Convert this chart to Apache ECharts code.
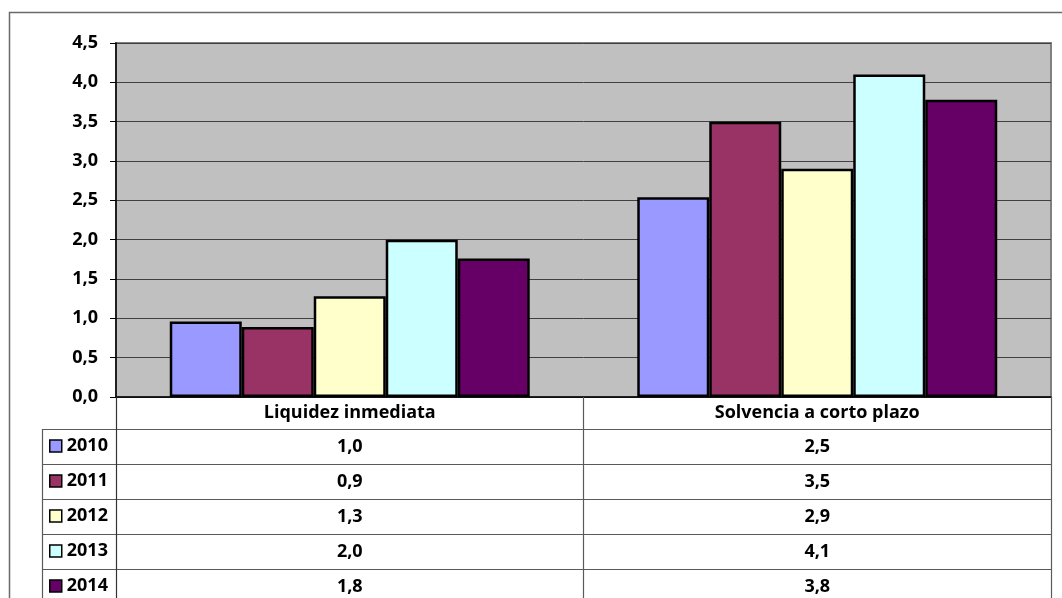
<!DOCTYPE html>
<html>
<head>
<meta charset="utf-8">
<script src="https://cdn.jsdelivr.net/npm/echarts@6/dist/echarts.min.js"></script>
<style>
html,body{margin:0;padding:0;background:#fff;}
#chart{width:1062px;height:598px;}
</style>
</head>
<body>
<div id="chart"></div>
<script>
// ---- data ----
var categories = ['Liquidez inmediata', 'Solvencia a corto plazo'];
var years = ['2010', '2011', '2012', '2013', '2014'];
var s2010 = [0.96, 2.54];
var s2011 = [0.89, 3.50];
var s2012 = [1.28, 2.90];
var s2013 = [2.00, 4.10];
var s2014 = [1.76, 3.78];
var yTicks = [0, 0.5, 1, 1.5, 2, 2.5, 3, 3.5, 4, 4.5];

var seriesValues = [s2010, s2011, s2012, s2013, s2014];
var colors = ['#9999FF', '#993366', '#FFFFCC', '#CCFFFF', '#660066'];

var FONT = '"Open Sans", sans-serif';
var FS = 18;
var fmt = function (v) { return Number(v).toFixed(1).replace('.', ','); };

// layout constants
var L = 116, R = 1051, T = 43, B = 397;
var headerBottom = 429, rowH = 35, legendLeft = 42;

var chart = echarts.init(document.getElementById('chart'), null, {renderer: 'canvas'});

var series = years.map(function (y, i) {
  return {
    name: y,
    type: 'bar',
    data: seriesValues[i],
    barGap: '0%',
    barCategoryGap: '23%',
    itemStyle: {color: colors[i], borderColor: '#000', borderWidth: 2.5},
    emphasis: {disabled: true},
    animation: false
  };
});

chart.setOption({
  animation: false,
  textStyle: {fontFamily: FONT},
  grid: {
    left: L, right: 1062 - R, top: T, bottom: 598 - B,
    show: true, backgroundColor: '#C0C0C0', borderColor: '#808080', borderWidth: 2
  },
  legend: {
    orient: 'vertical',
    left: 49, top: 436,
    padding: 0,
    itemWidth: 12, itemHeight: 12,
    itemGap: 15,
    icon: 'rect',
    selectedMode: false,
    itemStyle: {borderColor: '#000', borderWidth: 1.5},
    textStyle: {fontFamily: FONT, fontSize: FS, fontWeight: 'bold', color: '#000', lineHeight: 20, padding: [0, 0, 0, 0]},
    data: years
  },
  xAxis: {
    type: 'category',
    data: categories,
    axisLine: {lineStyle: {color: '#000', width: 1.5}},
    axisTick: {show: false},
    axisLabel: {
      margin: 0, lineHeight: 32, color: '#000', fontFamily: FONT, fontSize: FS, fontWeight: 'bold'
    },
    splitLine: {show: false}
  },
  yAxis: {
    type: 'value',
    min: yTicks[0], max: yTicks[yTicks.length - 1], interval: yTicks[1] - yTicks[0],
    axisLine: {show: true, lineStyle: {color: '#000', width: 1.5}},
    axisTick: {show: true, length: 6, lineStyle: {color: '#000'}},
    axisLabel: {
      margin: 18, color: '#000', fontFamily: FONT, fontSize: FS, fontWeight: 'bold',
      formatter: fmt
    },
    splitLine: {show: true, lineStyle: {color: '#404040', width: 1}}
  },
  series: series
});

// data table drawn from the data arrays
var graphics = [];
var lineStyle = {stroke: '#5a5a5a', lineWidth: 1.2};
// outer chart border
graphics.push({type: 'rect', silent: true, shape: {x: 9.5, y: 12.5, width: 1200, height: 800},
  style: {fill: null, stroke: '#6a6a6a', lineWidth: 1.5}, z: 0});
// horizontal row lines
for (var r = 0; r < years.length; r++) {
  var yy = headerBottom + r * rowH + 0.5;
  graphics.push({type: 'line', silent: true, shape: {x1: legendLeft, y1: yy, x2: R, y2: yy}, style: lineStyle, z: 10});
}
// vertical lines: legend column left, axis column, category dividers from axis scale
graphics.push({type: 'line', silent: true, shape: {x1: legendLeft + 0.5, y1: headerBottom, x2: legendLeft + 0.5, y2: 600}, style: lineStyle, z: 10});
graphics.push({type: 'line', silent: true, shape: {x1: L + 0.5, y1: B, x2: L + 0.5, y2: 600}, style: {stroke: '#333', lineWidth: 1.2}, z: 10});
var c0 = chart.convertToPixel({xAxisIndex: 0}, categories[0]);
var c1 = chart.convertToPixel({xAxisIndex: 0}, categories[1]);
var mid = (c0 + c1) / 2;
graphics.push({type: 'line', silent: true, shape: {x1: mid, y1: B, x2: mid, y2: 600}, style: lineStyle, z: 10});
graphics.push({type: 'line', silent: true, shape: {x1: R + 0.5, y1: B, x2: R + 0.5, y2: 600}, style: lineStyle, z: 10});
// value texts
for (var i = 0; i < years.length; i++) {
  for (var c = 0; c < categories.length; c++) {
    var cx = chart.convertToPixel({xAxisIndex: 0}, categories[c]);
    graphics.push({
      type: 'text', silent: true, z: 11,
      x: cx, y: headerBottom + i * rowH + rowH / 2,
      style: {
        text: fmt(seriesValues[i][c]),
        fontFamily: FONT, fontSize: FS, fontWeight: 'bold', fill: '#000',
        align: 'center', verticalAlign: 'middle'
      }
    });
  }
}
chart.setOption({graphic: {elements: graphics}});
</script>
</body>
</html>
